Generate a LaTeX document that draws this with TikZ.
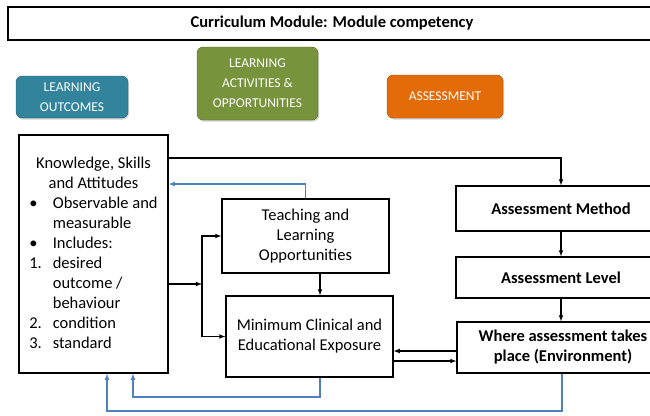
\documentclass[tikz,border=0pt]{standalone}
\usepackage{fontspec}
\setmainfont{Carlito}
\usetikzlibrary{shadows}
\definecolor{tealhead}{HTML}{31849B}
\definecolor{greenhead}{HTML}{77933C}
\definecolor{orangehead}{HTML}{E36C09}
\definecolor{backblue}{HTML}{4F81BD}
\begin{document}
\begin{tikzpicture}[x=1pt,y=-1pt,
box/.style={draw,line width=1.3pt,fill=white,inner sep=2pt},
head/.style={rounded corners=6pt,text=white,align=center,font=\fontsize{13.5}{20}\selectfont,
  drop shadow={opacity=0.35,shadow xshift=1pt,shadow yshift=-1.5pt}},
arr/.style={-latex,line width=1.1pt},
back/.style={-latex,line width=1.1pt,backblue}]
\useasboundingbox (0,0) rectangle (650,415);
\clip (0,0) rectangle (650,415);
%\draw[help lines,step=50] (0,0) grid (650,415);
\node (title) at (332,23.5) [box,minimum width=648,minimum height=33,font=\fontsize{16.5}{18}\selectfont\bfseries] {Curriculum Module: Module competency};
% header boxes
\node (lo) at (72,97) [head,fill=tealhead,draw=tealhead!70!black,minimum width=112,minimum height=42] {LEARNING\\OUTCOMES};
\node (la) at (257.5,83.5) [head,fill=greenhead,draw=greenhead!70!black,minimum width=121,minimum height=73] {LEARNING\\ACTIVITIES \&\\OPPORTUNITIES};
\node (as) at (445,96.5) [head,fill=orangehead,draw=orangehead!70!black,minimum width=116,minimum height=43] {ASSESSMENT};
% boxes
\node (ksa) at (93.5,254) [box,minimum width=149,minimum height=238,font=\fontsize{16.5}{20}\selectfont] {%
\begin{tabular}{@{}l@{\hspace{11pt}}l@{}}
\multicolumn{2}{c}{Knowledge, Skills}\\
\multicolumn{2}{c}{and Attitudes}\\
\textbullet & Observable and\\
 & measurable\\
\textbullet & Includes:\\
1. & desired\\
 & outcome /\\
 & behaviour\\
2. & condition\\
3. & standard
\end{tabular}};
\node (teach) at (305.5,236) [box,minimum width=167,minimum height=74,align=center,font=\fontsize{16.5}{20}\selectfont] {Teaching and\\Learning\\Opportunities};
\node (minim) at (309.5,336.5) [box,minimum width=167,minimum height=81,align=center,font=\fontsize{16.5}{20}\selectfont] {Minimum Clinical and\\Educational Exposure};
\node (meth) at (561,208.5) [box,minimum width=210,minimum height=45,font=\fontsize{16.5}{18}\selectfont\bfseries] {Assessment Method};
\node (level) at (561,277.5) [box,minimum width=210,minimum height=41,font=\fontsize{16.5}{18}\selectfont\bfseries] {Assessment Level};
\node (where) at (563,347.5) [box,minimum width=212,minimum height=51,align=center,font=\fontsize{16.5}{20}\selectfont\bfseries] {Where assessment takes\\place (Environment)};
\coordinate (split) at (202,284);
% black connectors
\draw[arr] (ksa.east |- 0,158) -| (meth.north -| 561,0);
\draw[arr] (ksa.east |- split) -- (split);
\draw[arr] (split) |- (teach.west);
\draw[arr] (split) |- (minim.west);
\draw[arr] (teach.south -| 320,0) -- (minim.north -| 320,0);
\draw[arr] (meth.south -| 561,0) -- (level.north -| 561,0);
\draw[arr] (level.south -| 561,0) -- (where.north -| 561,0);
\draw[arr] (where.west |- 0,351) -- (minim.east |- 0,351);
\draw[arr] (minim.east |- 0,361) -- (where.west |- 0,361);
% blue feedback
\draw[back] (teach.north) |- (ksa.east |- 0,184);
\draw[back] (minim.south -| 320,0) -- (320,397) -| (ksa.south -| 133,0);
\draw[back] (where.south -| 562,0) -- (562,411) -| (ksa.south -| 107,0);
\end{tikzpicture}
\end{document}
